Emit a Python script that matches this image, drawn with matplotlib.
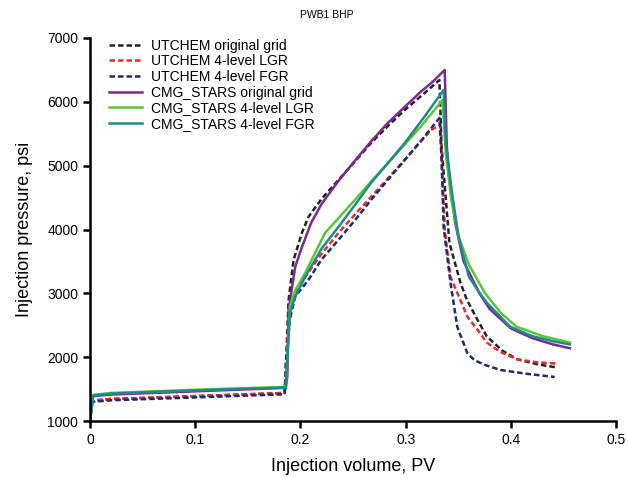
import numpy as np
from matplotlib import pyplot as plt

plt.rcParams['font.family'] = ['Liberation Sans', 'DejaVu Sans']

# UTCHEM original grid
ut_orig_x = [0, 0.002, 0.02, 0.1, 0.185, 0.1865, 0.1887, 0.1934, 0.2013, 0.2075, 0.22, 0.236, 0.252,
             0.267, 0.283, 0.299, 0.316, 0.332, 0.334, 0.3415, 0.352, 0.358, 0.368, 0.377, 0.392,
             0.406, 0.425, 0.443]
ut_orig_y = [1000, 1320, 1345, 1390, 1440, 2000, 2896, 3522, 3945, 4196, 4480, 4776, 5070,
             5355, 5620, 5872, 6110, 6342, 5300, 3790, 3166, 2900, 2590, 2325, 2100,
             1966, 1890, 1840]

# UTCHEM 4-level LGR
ut_lgr_x = [0, 0.002, 0.02, 0.1, 0.185, 0.1865, 0.19, 0.195, 0.2044, 0.22, 0.236, 0.252, 0.267,
            0.283, 0.299, 0.3239, 0.333, 0.3345, 0.337, 0.3425, 0.3585, 0.368, 0.377, 0.39,
            0.406, 0.425, 0.443]
ut_lgr_y = [1000, 1320, 1345, 1390, 1440, 2000, 2700, 3000, 3256, 3620, 3945, 4240, 4510,
            4800, 5089, 5559, 5637, 5000, 4000, 3260, 2636, 2434, 2230, 2080,
            1966, 1920, 1900]

# UTCHEM 4-level FGR
ut_fgr_x = [0, 0.002, 0.02, 0.1, 0.185, 0.1865, 0.19, 0.195, 0.2075, 0.22, 0.236, 0.252, 0.267,
            0.283, 0.299, 0.316, 0.332, 0.334, 0.336, 0.3425, 0.349, 0.3585, 0.365, 0.375,
            0.39, 0.415, 0.4415]
ut_fgr_y = [1000, 1300, 1325, 1370, 1420, 2000, 2600, 2950, 3209, 3530, 3836, 4150, 4462,
            4780, 5089, 5420, 5747, 5100, 4040, 3166, 2473, 2065, 1956, 1880,
            1800, 1740, 1690]

# CMG_STARS original grid
st_orig_x = [0, 0.003, 0.02, 0.1, 0.186, 0.1875, 0.1887, 0.195, 0.2013, 0.21, 0.22, 0.236, 0.2516,
             0.267, 0.283, 0.299, 0.314, 0.326, 0.337, 0.339, 0.342, 0.347, 0.355, 0.37, 0.38,
             0.4, 0.42, 0.44, 0.456]
st_orig_y = [1000, 1390, 1415, 1465, 1520, 1700, 2739, 3417, 3720, 4100, 4400, 4760, 5075,
             5380, 5669, 5920, 6154, 6320, 6500, 5300, 4700, 4100, 3500, 3000, 2750,
             2450, 2300, 2200, 2140]

# CMG_STARS 4-level LGR
st_lgr_x = [0, 0.003, 0.02, 0.1, 0.186, 0.1875, 0.19, 0.195, 0.2044, 0.2233, 0.2516, 0.267, 0.283,
            0.299, 0.314, 0.335, 0.338, 0.343, 0.35, 0.36, 0.375, 0.39, 0.405, 0.43, 0.456]
st_lgr_y = [1000, 1410, 1440, 1490, 1535, 2000, 2800, 3050, 3318, 3945, 4462, 4750, 5040,
            5330, 5606, 6029, 5200, 4500, 3900, 3450, 3010, 2700, 2480, 2330, 2230]

# CMG_STARS 4-level FGR
st_fgr_x = [0, 0.003, 0.02, 0.1, 0.186, 0.1875, 0.19, 0.195, 0.2044, 0.22, 0.236, 0.252, 0.267,
            0.283, 0.299, 0.317, 0.336, 0.338, 0.344, 0.35, 0.36, 0.368, 0.377, 0.399, 0.42,
            0.44, 0.456]
st_fgr_y = [1000, 1400, 1430, 1480, 1525, 2000, 2700, 2950, 3256, 3700, 4040, 4390, 4730,
            5040, 5355, 5750, 6186, 5355, 4570, 3900, 3260, 3057, 2855, 2480, 2330,
            2250, 2200]

series = [
    ('UTCHEM original grid', ut_orig_x, ut_orig_y, '#222222', '--'),
    ('UTCHEM 4-level LGR', ut_lgr_x, ut_lgr_y, '#e0302f', '--'),
    ('UTCHEM 4-level FGR', ut_fgr_x, ut_fgr_y, '#1f2a6e', '--'),
    ('CMG_STARS original grid', st_orig_x, st_orig_y, '#7b2b8c', '-'),
    ('CMG_STARS 4-level LGR', st_lgr_x, st_lgr_y, '#5cc43a', '-'),
    ('CMG_STARS 4-level FGR', st_fgr_x, st_fgr_y, '#1f8a8a', '-'),
]

fig = plt.figure(figsize=(6.28, 4.79), dpi=100)
ax = fig.add_axes([0.1433, 0.121, 0.838, 0.7997])

for label, xs, ys, col, ls in series:
    ax.plot(xs, ys, color=col, linestyle=ls, linewidth=1.8, label=label,
            dashes=(2.2, 1.2) if ls == '--' else (None, None))

ax.set_xlim(0, 0.5)
ax.set_ylim(1000, 7000)
ax.set_xticks([0, 0.1, 0.2, 0.3, 0.4, 0.5])
ax.set_xticklabels(['0', '0.1', '0.2', '0.3', '0.4', '0.5'])
ax.set_yticks(np.arange(1000, 7001, 1000))

for s in ['top', 'right']:
    ax.spines[s].set_visible(False)
for s in ['left', 'bottom']:
    ax.spines[s].set_linewidth(1.8)
ax.tick_params(direction='out', length=5, width=1.8, labelsize=10)

ax.set_xlabel('Injection volume, PV', fontsize=13, labelpad=8)
ax.set_ylabel('Injection pressure, psi', fontsize=13, labelpad=10)
fig.text(0.52, 0.963, 'PWB1 BHP', fontsize=7.5, ha='center')

ax.legend(loc='upper left', bbox_to_anchor=(0.02, 1.02), frameon=False, fontsize=10,
          handlelength=2.4, labelspacing=0.12, handletextpad=0.6, borderaxespad=0.2)

fig.savefig('out.png', dpi=100)
